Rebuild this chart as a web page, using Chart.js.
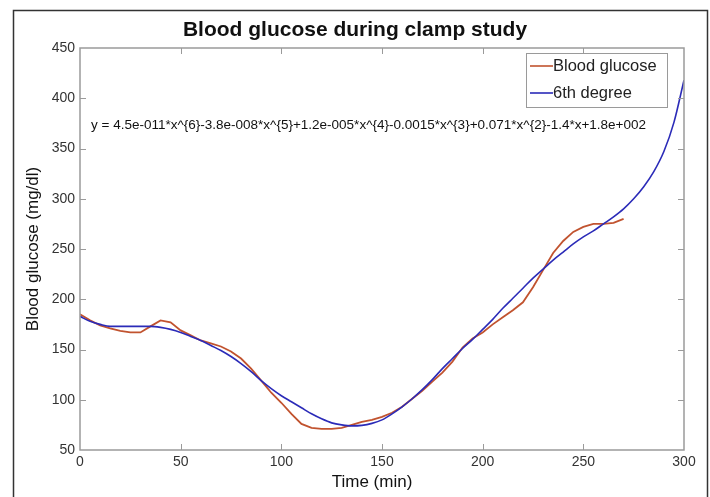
<!DOCTYPE html>
<html>
<head>
<meta charset="utf-8">
<script src="https://cdn.jsdelivr.net/npm/chart.js@4/dist/chart.umd.min.js"></script>
<style>
  html, body { margin: 0; padding: 0; background: #fff; }
  #wrap { width: 710px; height: 497px; }
</style>
</head>
<body>
<div id="wrap"><canvas id="myChart" width="710" height="497"></canvas></div>
<script>
// measured blood glucose (mg/dl), every 5 min
const glucoseTime = [0, 5, 10, 15, 20, 25, 30, 35, 40, 45, 50, 55, 60, 65, 70, 75, 80, 85, 90, 95,
  100, 105, 110, 115, 120, 125, 130, 135, 140, 145, 150, 155, 160, 165, 170, 175, 180, 185, 190, 195,
  200, 205, 210, 215, 220, 225, 230, 235, 240, 245, 250, 255, 260, 265, 270];
const glucose = [185, 179, 174, 171, 168.5, 167, 167, 173, 179, 177, 169, 164, 159, 156, 153, 148, 141, 131, 119, 107,
  97, 86, 76, 72, 71, 71, 72, 75, 78, 80, 83, 87, 93, 101, 109, 118, 127, 138, 152, 161,
  167, 175, 182, 189, 197, 212, 229, 246, 258, 267, 272, 275, 275, 276, 280];

// 6th degree fit curve
const fitTime = [0, 5, 10, 15, 20, 25, 30, 35, 40, 45, 50, 55, 60, 65, 70, 75, 80, 85, 90, 95,
  100, 105, 110, 115, 120, 125, 130, 135, 140, 145, 150, 155, 160, 165, 170, 175, 180, 185, 190, 195,
  200, 205, 210, 215, 220, 225, 230, 235, 240, 245, 250, 255, 260, 265, 270, 275, 280, 285, 290, 295, 300];
const fit6 = [183, 178, 175, 173, 173, 173, 173, 173, 172, 170, 167, 163, 159, 154, 149, 143, 136, 128, 119, 111,
  104, 98, 92, 86, 81, 77, 75, 74, 74.5, 76.5, 80, 86, 93, 101, 110, 120, 131, 141, 151, 160,
  170, 180, 191, 201, 211, 221, 230, 239, 247, 255, 262, 268, 275, 282, 290, 300, 312, 327, 347, 376, 418];

const seriesNames = ['Blood glucose', '6th degree'];
const seriesColors = ['#c1532f', '#2b2bb8'];
const xTicks = [0, 50, 100, 150, 200, 250, 300];
const yTicks = [50, 100, 150, 200, 250, 300, 350, 400, 450];

const chartTitle = 'Blood glucose during clamp study';
const xTitle = 'Time (min)';
const yTitle = 'Blood glucose (mg/dl)';
const equation = 'y = 4.5e-011*x^{6}-3.8e-008*x^{5}+1.2e-005*x^{4}-0.0015*x^{3}+0.071*x^{2}-1.4*x+1.8e+002';

const FONT = '"Liberation Sans", Arial, sans-serif';

const toPoints = (xs, ys) => xs.map((x, i) => ({x: x, y: ys[i]}));

// frame, inward ticks, titles, equation and boxed legend
const decorations = {
    id: 'decorations',
    afterDraw(chart) {
        const ctx = chart.ctx;
        const area = chart.chartArea;
        const xs = chart.scales.x;
        const ys = chart.scales.y;
        ctx.save();

        // outer figure frame
        ctx.strokeStyle = '#333';
        ctx.lineWidth = 1.5;
        ctx.strokeRect(13.5, 10.5, 694, 500);

        // axes box
        ctx.strokeStyle = '#9a9a9a';
        ctx.lineWidth = 1.5;
        ctx.strokeRect(area.left, area.top, area.right - area.left, area.bottom - area.top);

        // tick marks pointing in, on all four sides
        ctx.lineWidth = 1;
        ctx.beginPath();
        xTicks.slice(1, -1).forEach(v => {
            const px = Math.round(xs.getPixelForValue(v)) + 0.5;
            ctx.moveTo(px, area.bottom); ctx.lineTo(px, area.bottom - 6);
            ctx.moveTo(px, area.top); ctx.lineTo(px, area.top + 6);
        });
        yTicks.slice(1, -1).forEach(v => {
            const py = Math.round(ys.getPixelForValue(v)) + 0.5;
            ctx.moveTo(area.left, py); ctx.lineTo(area.left + 6, py);
            ctx.moveTo(area.right, py); ctx.lineTo(area.right - 6, py);
        });
        ctx.stroke();

        // titles
        ctx.fillStyle = '#111';
        ctx.textAlign = 'center';
        ctx.textBaseline = 'middle';
        ctx.font = 'bold 21px ' + FONT;
        ctx.fillText(chartTitle, 355, 30);

        ctx.font = '17px ' + FONT;
        ctx.fillText(xTitle, 372, 482);

        ctx.save();
        ctx.translate(33, (area.top + area.bottom) / 2);
        ctx.rotate(-Math.PI / 2);
        ctx.fillText(yTitle, 0, 0);
        ctx.restore();

        // fit equation
        ctx.textAlign = 'left';
        ctx.font = '13.5px ' + FONT;
        ctx.fillText(equation, 91, 125);

        // legend box
        const lx = 526, ly = 53, lw = 141, lh = 54;
        ctx.fillStyle = '#fff';
        ctx.fillRect(lx, ly, lw, lh);
        ctx.strokeStyle = '#9a9a9a';
        ctx.lineWidth = 1;
        ctx.strokeRect(lx + 0.5, ly + 0.5, lw, lh);
        ctx.font = '16.5px ' + FONT;
        seriesNames.forEach((name, i) => {
            const rowY = ly + 13 + i * 27;
            ctx.strokeStyle = seriesColors[i];
            ctx.lineWidth = 1.6;
            ctx.beginPath();
            ctx.moveTo(lx + 4, rowY);
            ctx.lineTo(lx + 27, rowY);
            ctx.stroke();
            ctx.fillStyle = '#222';
            ctx.fillText(name, lx + 27, rowY);
        });

        ctx.restore();
    }
};

const tickFont = {family: FONT, size: 14};

new Chart(document.getElementById('myChart'), {
    type: 'line',
    data: {
        datasets: [
            {
                label: seriesNames[0],
                data: toPoints(glucoseTime, glucose),
                borderColor: seriesColors[0],
                borderWidth: 1.8,
                pointRadius: 0,
                tension: 0,
                order: 1,
            },
            {
                label: seriesNames[1],
                data: toPoints(fitTime, fit6),
                borderColor: seriesColors[1],
                borderWidth: 1.6,
                pointRadius: 0,
                tension: 0.4,
                cubicInterpolationMode: 'monotone',
                order: 0,
            },
        ],
    },
    options: {
        responsive: false,
        animation: false,
        layout: {
            padding: {left: 0, right: 26, top: 48, bottom: 0},
        },
        plugins: {
            legend: {display: false},
            tooltip: {enabled: false},
            title: {display: false},
        },
        scales: {
            x: {
                type: 'linear',
                min: 0,
                max: 300,
                grid: {display: false, drawTicks: false},
                border: {display: false},
                afterBuildTicks: (scale) => { scale.ticks = xTicks.map(v => ({value: v})); },
                afterFit: (scale) => { scale.height = 47; },
                ticks: {color: '#333', font: tickFont, padding: 4, maxRotation: 0},
            },
            y: {
                type: 'linear',
                min: 50,
                max: 450,
                grid: {display: false, drawTicks: false},
                border: {display: false},
                afterBuildTicks: (scale) => { scale.ticks = yTicks.map(v => ({value: v})); },
                afterFit: (scale) => { scale.width = 80; },
                ticks: {color: '#333', font: tickFont, padding: 5},
            },
        },
    },
    plugins: [decorations],
});
</script>
</body>
</html>
